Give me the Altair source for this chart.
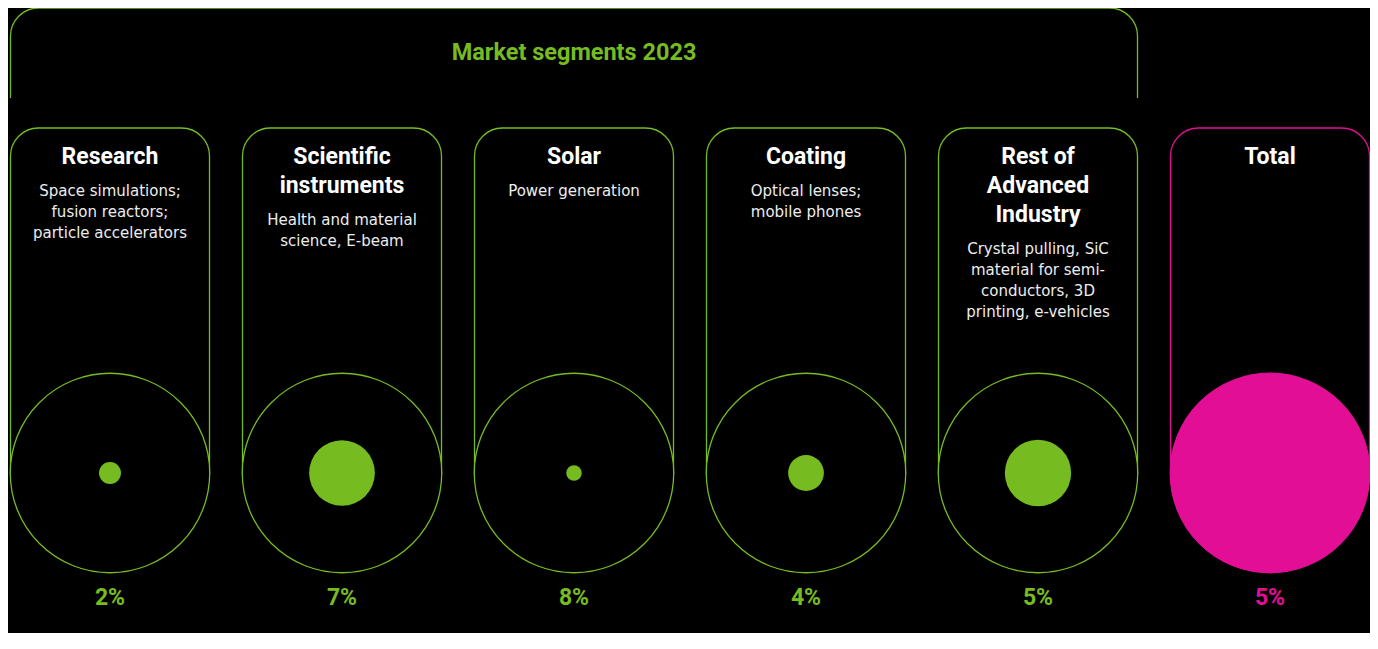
import altair as alt
import pandas as pd

# ---------------- data ----------------
segments = ["Research", "Scientific instruments", "Solar", "Coating",
            "Rest of Advanced Industry", "Total"]
header_lines = [["Research"], ["Scientific", "instruments"], ["Solar"], ["Coating"],
                ["Rest of", "Advanced", "Industry"], ["Total"]]
desc_lines = [["Space simulations;", "fusion reactors;", "particle accelerators"],
              ["Health and material", "science, E-beam"],
              ["Power generation"],
              ["Optical lenses;", "mobile phones"],
              ["Crystal pulling, SiC", "material for semi-", "conductors, 3D", "printing, e-vehicles"],
              []]
growth_pct = [2, 7, 8, 4, 5, 5]
share_of_total = [1.2, 10.8, 0.6, 3.2, 11.0, 100.0]   # relative market size (area of dot)
kinds = ["segment", "segment", "segment", "segment", "segment", "total"]
title_text = "Market segments 2023"

# ---------------- layout / style ----------------
W, H = 1362, 625
GREEN = "#76BC21"
PINK = "#E20E95"
COL_STEP = 232.0          # px between column centres
FIRST_CENTER = 102.0      # px of first column centre
HALF = 99.5 / COL_STEP    # half pill width in column units
PILL_TOP, CIRCLE_Y = 120, 465
HEAD_Y0, HEAD_STEP = 148.5, 29
DESC_GAP, DESC_STEP = 34.5, 21
PCT_Y, TITLE_Y = 590, 45
FONT = "Roboto"

xs = alt.Scale(domain=[-FIRST_CENTER / COL_STEP, (W - FIRST_CENTER) / COL_STEP], nice=False, zero=False)
ys = alt.Scale(domain=[0, H], reverse=True, nice=False, zero=False)
cs = alt.Scale(domain=["segment", "total"], range=[GREEN, PINK])

n = len(segments)
df = pd.DataFrame({
    "i": list(range(n)),
    "name": segments,
    "kind": kinds,
    "growth": growth_pct,
    "share": share_of_total,
})
df["pct"] = [f"{g}%" for g in growth_pct]
df["x1"] = df["i"] - HALF
df["x2"] = df["i"] + HALF
df["ytop"] = PILL_TOP
df["ycen"] = CIRCLE_Y
df["ypct"] = PCT_Y

head_rows, desc_rows = [], []
for i, (hl, dl) in enumerate(zip(header_lines, desc_lines)):
    for k, t in enumerate(hl):
        head_rows.append({"i": i, "t": t, "y": HEAD_Y0 + HEAD_STEP * k})
    last = HEAD_Y0 + HEAD_STEP * (len(hl) - 1)
    for j, t in enumerate(dl):
        desc_rows.append({"i": i, "t": t, "y": last + DESC_GAP + DESC_STEP * j})
heads = pd.DataFrame(head_rows)
descs = pd.DataFrame(desc_rows)

n_seg = kinds.count("segment")
bracket = pd.DataFrame({"x1": [0 - HALF], "x2": [(n_seg - 1) + HALF],
                        "y1": [0], "y2": [95], "cy1": [90], "cy2": [100],
                        "xc": [(n_seg - 1) / 2], "ty": [TITLE_Y], "t": [title_text]})

X = lambda f: alt.X(f, scale=xs, axis=None)
Y = lambda f: alt.Y(f, scale=ys, axis=None)
kind_stroke = alt.Stroke("kind:N", scale=cs, legend=None)
kind_color = alt.Color("kind:N", scale=cs, legend=None)

bracket_rect = alt.Chart(bracket).mark_rect(
    fill="black", fillOpacity=0, strokeWidth=1.3, stroke=GREEN,
    cornerRadiusTopLeft=28, cornerRadiusTopRight=28
).encode(x=X("x1:Q"), x2="x2:Q", y=Y("y1:Q"), y2="y2:Q")

bracket_cover = alt.Chart(bracket).transform_calculate(
    a="datum.x1 - 0.05", b="datum.x2 + 0.05"
).mark_rect(fill="black", strokeWidth=0).encode(
    x=X("a:Q"), x2="b:Q", y=Y("cy1:Q"), y2="cy2:Q")

title = alt.Chart(bracket).mark_text(
    font=FONT, fontSize=23.5, fontWeight="bold", color=GREEN, baseline="middle", align="center"
).encode(x=X("xc:Q"), y=Y("ty:Q"), text="t:N")

pills = alt.Chart(df).mark_rect(
    fill="black", fillOpacity=0, strokeWidth=1.3,
    cornerRadiusTopLeft=28, cornerRadiusTopRight=28
).encode(x=X("x1:Q"), x2="x2:Q", y=Y("ytop:Q"), y2="ycen:Q", stroke=kind_stroke)

rings = alt.Chart(df).mark_circle(
    size=199.5 ** 2, fill="black", fillOpacity=1, opacity=1, strokeWidth=1.3
).encode(x=X("i:Q"), y=Y("ycen:Q"), stroke=kind_stroke)

dots = alt.Chart(df).mark_circle(opacity=1, strokeWidth=0).encode(
    x=X("i:Q"), y=Y("ycen:Q"), color=kind_color,
    size=alt.Size("share:Q", scale=alt.Scale(domain=[0, 100], range=[0, 40000]), legend=None))

head_txt = alt.Chart(heads).mark_text(
    font=FONT, fontSize=23, fontWeight="bold", color="white", baseline="middle", align="center"
).encode(x=X("i:Q"), y=Y("y:Q"), text="t:N")

desc_txt = alt.Chart(descs).mark_text(
    font="DejaVu Sans", fontSize=15, color="#ededed", baseline="middle", align="center"
).encode(x=X("i:Q"), y=Y("y:Q"), text="t:N")

pct_txt = alt.Chart(df).mark_text(
    font=FONT, fontSize=23, fontWeight="bold", baseline="middle", align="center"
).encode(x=X("i:Q"), y=Y("ypct:Q"), text="pct:N", color=kind_color)

chart = alt.layer(
    bracket_rect, bracket_cover, title, pills, rings, dots, head_txt, desc_txt, pct_txt
).properties(
    width=W, height=H, background="black", padding=0, autosize=alt.AutoSizeParams(type="none")
).configure_view(stroke=None)

chart.save("out.html", embed_options={"renderer": "svg", "actions": False})
